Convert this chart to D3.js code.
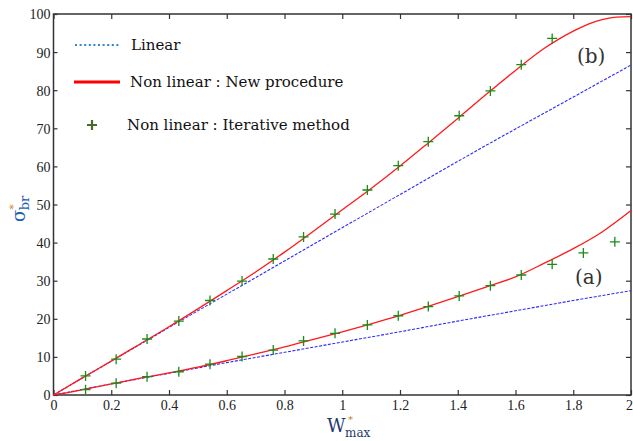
<!DOCTYPE html>
<html><head><meta charset="utf-8">
<script src="https://cdn.jsdelivr.net/npm/d3@7"></script>
<style>body{margin:0;background:#fff}svg{display:block}</style>
</head><body>
<svg id="c" width="633" height="441"></svg>
<script>
const xTicks = [0,0.2,0.4,0.6,0.8,1,1.2,1.4,1.6,1.8,2];
const yTicks = [0,10,20,30,40,50,60,70,80,90,100];

// Linear (blue dotted)
const linBx = [0,0.25,0.5,0.75,1,1.25,1.5,1.75,2];
const linBy = [0,11.1,22.1,33.0,43.9,54.8,65.6,76.1,86.6];
const linAx = [0,0.2,0.4,0.6,0.8,1,1.2,1.4,1.6,1.8,2];
const linAy = [0,2.9,5.7,8.5,11.2,13.9,16.6,19.4,22.1,24.8,27.4];

// Non linear : New procedure (red)
const nlBx = [0,0.1,0.2,0.3,0.4,0.5,0.6,0.7,0.8,0.9,1,1.1,1.2,1.3,1.4,1.5,1.6,1.7,1.75,1.8,1.85,1.9,1.95,2];
const nlBy = [0,4.5,8.9,13.4,17.9,22.6,27.4,32.3,37.5,43.0,48.6,54.2,60.1,66.3,72.6,79.0,85.2,91.0,93.4,95.5,97.3,98.5,99.2,99.3];
const nlAx = [0,0.05,0.1,0.2,0.3,0.4,0.5,0.6,0.7,0.8,0.9,1,1.1,1.2,1.3,1.4,1.5,1.6,1.7,1.8,1.9,2];
const nlAy = [0,0.6,1.4,2.9,4.4,5.8,7.3,9.0,10.8,12.6,14.6,16.6,18.7,20.9,23.3,25.8,28.4,31.0,34.6,38.4,42.8,48.4];

// Non linear : Iterative method (crosses)
const itBx = [0.111,0.217,0.324,0.434,0.542,0.653,0.761,0.866,0.975,1.087,1.194,1.298,1.405,1.513,1.62,1.727];
const itBy = [5.0,9.4,14.7,19.4,24.8,29.9,35.7,41.5,47.5,53.8,60.2,66.5,73.3,79.8,86.7,93.6];
const itAx = [0.111,0.217,0.324,0.434,0.542,0.653,0.761,0.866,0.975,1.087,1.194,1.298,1.405,1.513,1.62,1.727,1.835,1.944];
const itAy = [1.4,3.1,4.8,6.1,8.1,10.1,11.8,14.2,16.2,18.4,20.8,23.2,26.0,28.7,31.5,34.3,37.3,40.2];

const svg = d3.select("#c");
const L=53.5, R=631, T=14, B=395;
const x = d3.scaleLinear().domain([0,2]).range([L,R]);
const y = d3.scaleLinear().domain([0,100]).range([B,T]);
const axisCol = "#333";
const tickFont = "'Liberation Serif', serif";

const g = svg.append("g");
const ax = [
  {a:d3.axisBottom(x).tickValues(xTicks).tickSizeInner(-5).tickSizeOuter(0).tickFormat(d3.format("~g")), t:`translate(0,${B})`},
  {a:d3.axisTop(x).tickValues(xTicks).tickSizeInner(-5).tickSizeOuter(0).tickFormat(""), t:`translate(0,${T})`},
  {a:d3.axisLeft(y).tickValues(yTicks).tickSizeInner(-4).tickSizeOuter(0).tickFormat(d3.format("~g")), t:`translate(${L},0)`},
  {a:d3.axisRight(y).tickValues(yTicks).tickSizeInner(-5).tickSizeOuter(0).tickFormat(""), t:`translate(${R},0)`}
];
ax.forEach((o,i)=>{
  const gg = g.append("g").attr("transform",o.t).call(o.a);
  gg.select(".domain").remove();
  gg.selectAll(".tick line").attr("stroke",axisCol).attr("stroke-width",1.2);
  gg.selectAll("text").attr("font-family",tickFont).attr("font-size",14).attr("fill","#222");
  if(i===0){
    gg.selectAll("text").attr("dy","0").attr("y",15);
    gg.selectAll(".tick").filter(d=>d===2).select("text").attr("x",-2);
  }
  if(i===2) gg.selectAll("text").attr("x",-3).attr("dy","0.35em");
});
g.append("rect").attr("x",L).attr("y",T).attr("width",R-L).attr("height",B-T)
  .attr("fill","none").attr("stroke",axisCol).attr("stroke-width",1.5);

const plot = svg.append("g");
const line = d3.line().curve(d3.curveMonotoneX).x(d=>x(d[0])).y(d=>y(d[1]));
const zip = (a,b)=>a.map((v,i)=>[v,b[i]]);

[[linBx,linBy],[linAx,linAy]].forEach(([a,b])=>{
  plot.append("path").datum(zip(a,b)).attr("d",line).attr("fill","none")
    .attr("stroke","#2a2aff").attr("stroke-width",1.1).attr("stroke-dasharray","3,1.5");
});
[[nlBx,nlBy],[nlAx,nlAy]].forEach(([a,b])=>{
  plot.append("path").datum(zip(a,b)).attr("d",line).attr("fill","none")
    .attr("stroke","#ff1a1a").attr("stroke-width",1.3);
});
const cross = (sel, cx, cy, s, col, w)=>{
  sel.append("path").attr("d",`M${cx-s},${cy}H${cx+s}M${cx},${cy-s}V${cy+s}`)
    .attr("stroke",col).attr("stroke-width",w).attr("fill","none");
};
[[itBx,itBy],[itAx,itAy]].forEach(([a,b])=>{
  a.forEach((v,i)=>cross(plot,x(v),y(b[i]),5,"#1a8c1a",1.3));
});

const lf = "'DejaVu Serif', serif";
svg.append("text").attr("x",577).attr("y",63).text("(b)")
  .attr("font-family",lf).attr("font-size",20).attr("fill","#333");
svg.append("text").attr("x",575).attr("y",284).text("(a)")
  .attr("font-family",lf).attr("font-size",20).attr("fill","#333");

// legend
svg.append("line").attr("x1",75).attr("x2",120).attr("y1",45).attr("y2",45)
  .attr("stroke","#2f86d6").attr("stroke-width",2.2).attr("stroke-dasharray","2,2.6");
svg.append("text").attr("x",131).attr("y",50).text("Linear").attr("font-family",lf).attr("font-size",15).attr("fill","#111");
svg.append("line").attr("x1",74).attr("x2",120).attr("y1",82).attr("y2",82)
  .attr("stroke","#ff0000").attr("stroke-width",3);
svg.append("text").attr("x",130).attr("y",87).text("Non linear : New procedure").attr("font-family",lf).attr("font-size",15).attr("fill","#111");
cross(svg,92,125,5,"#4a6a28",2.2);
svg.append("text").attr("x",127).attr("y",130).text("Non linear : Iterative method").attr("font-family",lf).attr("font-size",15).attr("fill","#111");

// axis titles
const yl = svg.append("text").attr("transform","translate(25,222) rotate(-90)")
  .attr("font-family",lf).attr("fill","#1f5fb0");
yl.append("tspan").attr("font-size",18).text("σ");
yl.append("tspan").attr("font-size",11).attr("dy",-8).attr("fill","#d08020").text("*");
yl.append("tspan").attr("font-size",13).attr("dy",12).attr("dx",-6).text("br");

svg.append("text").attr("x",327).attr("y",432).attr("font-family",lf).attr("font-size",18)
  .attr("fill","#1f3a70").text("W");
svg.append("text").attr("x",348).attr("y",423).attr("font-family",lf).attr("font-size",10)
  .attr("fill","#c08030").text("*");
svg.append("text").attr("x",345).attr("y",437).attr("font-family",lf).attr("font-size",12)
  .attr("fill","#1f3a70").text("max");
</script>
</body></html>
